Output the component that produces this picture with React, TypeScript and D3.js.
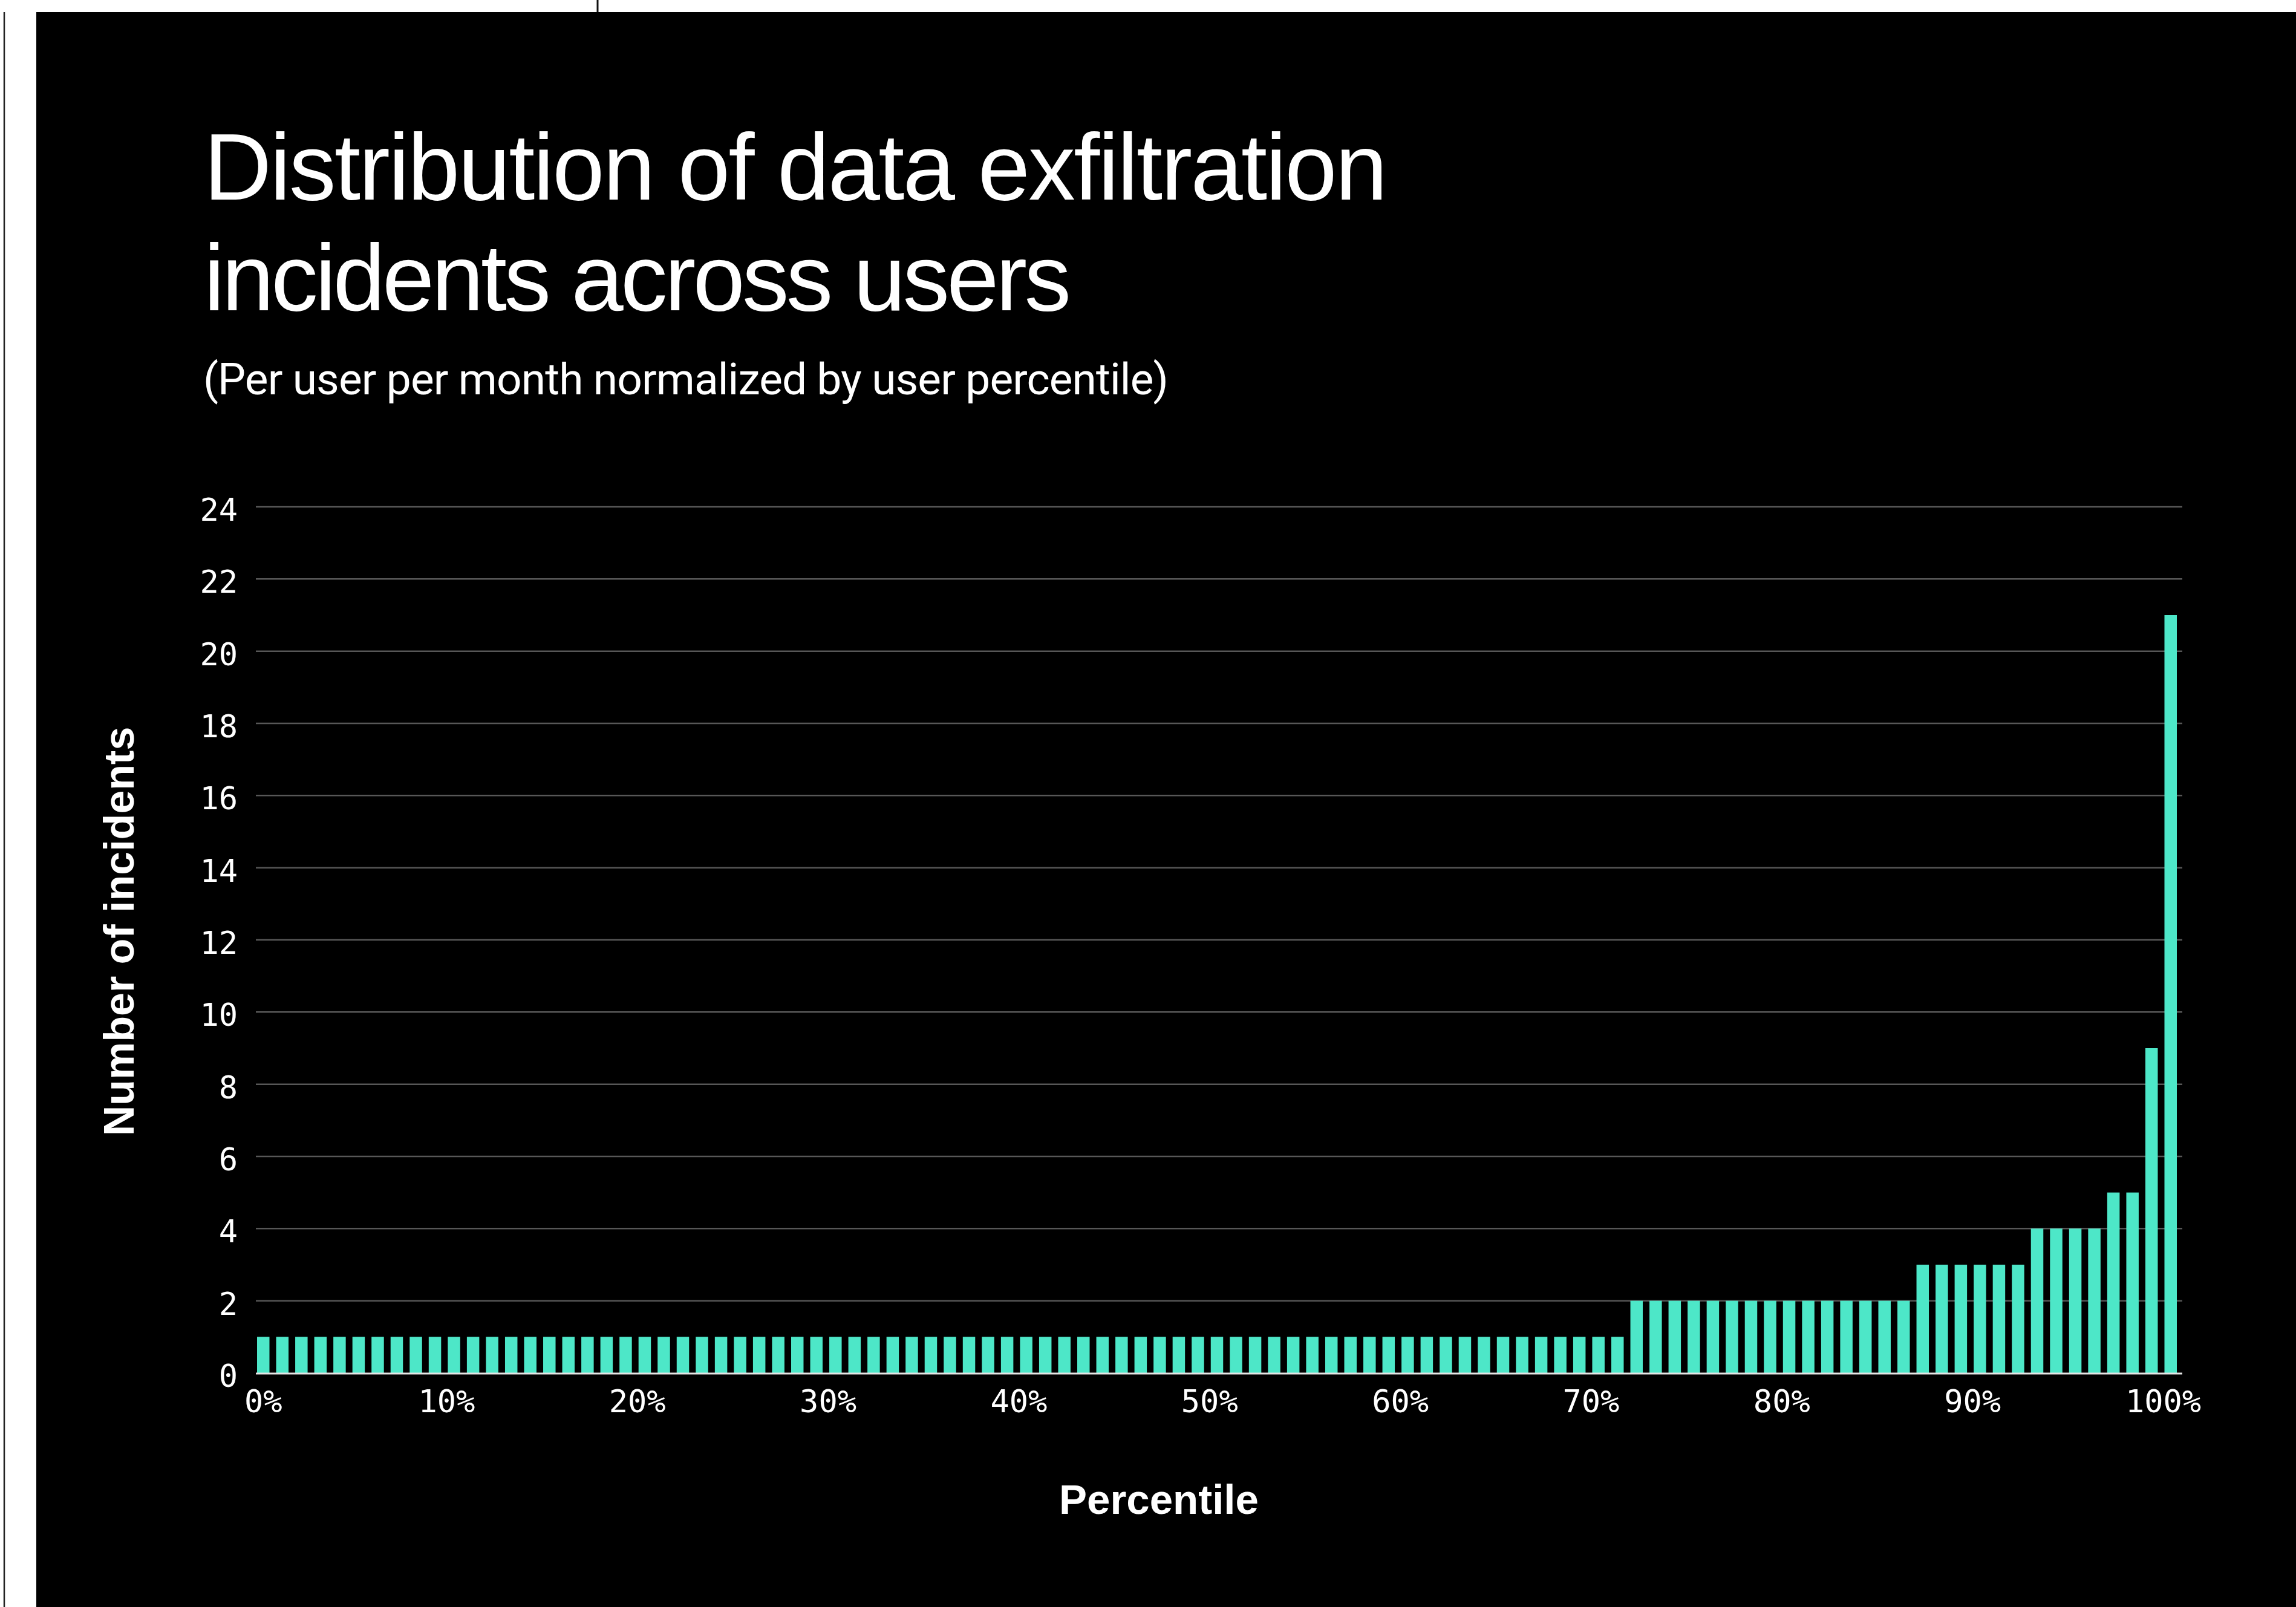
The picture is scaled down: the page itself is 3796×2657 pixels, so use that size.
import { useEffect, useRef } from 'react';
import * as d3 from 'd3';

// percentile buckets 0..100
const percentiles = [
  0, 1, 2, 3, 4, 5, 6, 7, 8, 9,
  10, 11, 12, 13, 14, 15, 16, 17, 18, 19,
  20, 21, 22, 23, 24, 25, 26, 27, 28, 29,
  30, 31, 32, 33, 34, 35, 36, 37, 38, 39,
  40, 41, 42, 43, 44, 45, 46, 47, 48, 49,
  50, 51, 52, 53, 54, 55, 56, 57, 58, 59,
  60, 61, 62, 63, 64, 65, 66, 67, 68, 69,
  70, 71, 72, 73, 74, 75, 76, 77, 78, 79,
  80, 81, 82, 83, 84, 85, 86, 87, 88, 89,
  90, 91, 92, 93, 94, 95, 96, 97, 98, 99,
  100,
];

// incidents per user per month
const incidents = [
  1, 1, 1, 1, 1, 1, 1, 1, 1, 1,
  1, 1, 1, 1, 1, 1, 1, 1, 1, 1,
  1, 1, 1, 1, 1, 1, 1, 1, 1, 1,
  1, 1, 1, 1, 1, 1, 1, 1, 1, 1,
  1, 1, 1, 1, 1, 1, 1, 1, 1, 1,
  1, 1, 1, 1, 1, 1, 1, 1, 1, 1,
  1, 1, 1, 1, 1, 1, 1, 1, 1, 1,
  1, 1, 2, 2, 2, 2, 2, 2, 2, 2,
  2, 2, 2, 2, 2, 2, 2, 3, 3, 3,
  3, 3, 3, 4, 4, 4, 4, 5, 5, 9,
  21,
];

const xTicks = [0, 10, 20, 30, 40, 50, 60, 70, 80, 90, 100];
const xTickLabels = ['0%', '10%', '20%', '30%', '40%', '50%', '60%', '70%', '80%', '90%', '100%'];
const yTicks = [0, 2, 4, 6, 8, 10, 12, 14, 16, 18, 20, 22, 24];

const title = ['Distribution of data exfiltration', 'incidents across users'];
const subtitle = '(Per user per month normalized by user percentile)';

export default function App() {
  const ref = useRef<SVGSVGElement>(null);

  useEffect(() => {
    if (!ref.current) return;
    const W = 3796;
    const H = 2657;
    const svg = d3.select(ref.current);
    svg.selectAll('*').remove();
    svg.attr('width', W).attr('height', H);

    svg.append('rect').attr('width', W).attr('height', H).attr('fill', '#fff');
    svg.append('rect')
      .attr('x', 60).attr('y', 20)
      .attr('width', W - 60).attr('height', H - 20)
      .attr('fill', '#000');
    // crop marks of the page behind
    svg.append('line')
      .attr('x1', 7).attr('x2', 7).attr('y1', 20).attr('y2', H)
      .attr('stroke', '#222').attr('stroke-width', 2.5);
    svg.append('line')
      .attr('x1', 988).attr('x2', 988).attr('y1', 0).attr('y2', 20)
      .attr('stroke', '#111').attr('stroke-width', 3);

    const sans = '"Liberation Sans", Arial, sans-serif';
    const mono = '"DejaVu Sans Mono", monospace';

    svg.append('text')
      .attr('x', 337).attr('y', 330)
      .attr('fill', '#fff')
      .style('font-family', sans).style('font-size', '155px')
      .attr('textLength', 1957).attr('lengthAdjust', 'spacing')
      .text(title[0]);
    svg.append('text')
      .attr('x', 337).attr('y', 513)
      .attr('fill', '#fff')
      .style('font-family', sans).style('font-size', '155px')
      .attr('textLength', 1434).attr('lengthAdjust', 'spacing')
      .text(title[1]);
    svg.append('text')
      .attr('x', 336).attr('y', 652)
      .attr('fill', '#fff')
      .style('font-family', 'Roboto, "Liberation Sans", sans-serif')
      .style('font-size', '73px')
      .attr('textLength', 1596).attr('lengthAdjust', 'spacing')
      .text(subtitle);

    const left = 425;
    const right = 3599;
    const x = d3.scaleBand<number>()
      .domain(percentiles)
      .range([left, right])
      .paddingInner(0.35)
      .paddingOuter(0);
    const bw = x.bandwidth();

    const y = d3.scaleLinear()
      .domain([0, 24])
      .range([2270, 838]);

    const chart = svg.append('g');

    chart.append('g')
      .selectAll('line')
      .data(yTicks.filter(d => d > 0))
      .join('line')
      .attr('x1', 423).attr('x2', 3608)
      .attr('y1', d => y(d)).attr('y2', d => y(d))
      .attr('stroke', '#575757').attr('stroke-width', 2.5);

    chart.append('g')
      .selectAll('rect')
      .data(incidents)
      .join('rect')
      .attr('x', (_, i) => x(percentiles[i]) as number)
      .attr('width', bw)
      .attr('y', d => y(d))
      .attr('height', d => y(0) - y(d))
      .attr('fill', '#4de7c8');

    chart.append('line')
      .attr('x1', 423).attr('x2', 3608)
      .attr('y1', y(0) + 1).attr('y2', y(0) + 1)
      .attr('stroke', '#e6e6e6').attr('stroke-width', 3);

    chart.append('g')
      .selectAll('text')
      .data(yTicks)
      .join('text')
      .attr('x', 393)
      .attr('y', d => y(d) + 23)
      .attr('text-anchor', 'end')
      .attr('fill', '#fff')
      .style('font-family', mono).style('font-size', '52px')
      .text(d => String(d));

    // labels sit on the left edge of their bar, the first one is kept inside
    chart.append('g')
      .selectAll('text')
      .data(xTicks)
      .join('text')
      .attr('x', (d, i) => (x(d) as number) + (i === 0 ? bw / 2 : -2))
      .attr('y', 2335)
      .attr('text-anchor', 'middle')
      .attr('fill', '#fff')
      .style('font-family', mono).style('font-size', '52px')
      .text((_, i) => xTickLabels[i]);

    svg.append('text')
      .attr('x', 1916).attr('y', 2503)
      .attr('text-anchor', 'middle')
      .attr('fill', '#fff')
      .style('font-family', sans).style('font-size', '69px').style('font-weight', 700)
      .text('Percentile');

    svg.append('text')
      .attr('transform', 'translate(221,1540) rotate(-90)')
      .attr('text-anchor', 'middle')
      .attr('fill', '#fff')
      .style('font-family', sans).style('font-size', '70px').style('font-weight', 700)
      .text('Number of incidents');
  }, []);

  return (
    <svg
      ref={ref}
      style={{ position: 'absolute', left: 0, top: 0, display: 'block' }}
    />
  );
}
